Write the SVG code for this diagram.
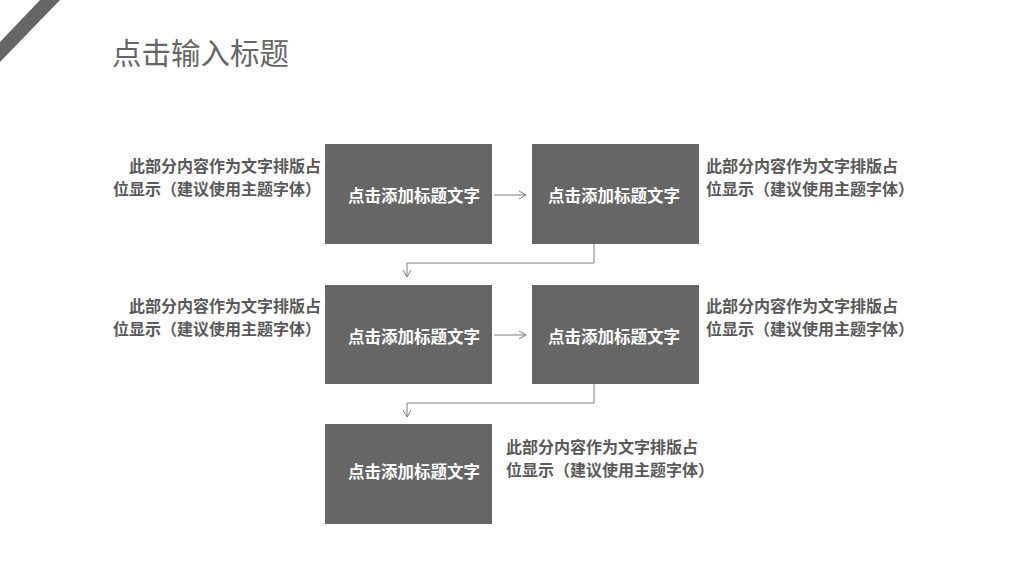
<svg xmlns="http://www.w3.org/2000/svg" width="1024" height="576" viewBox="0 0 1024 576">
<style>
.box{fill:#666666}
.bt{font-family:"Noto Sans CJK SC",sans-serif;font-weight:bold;font-size:16.5px;fill:#ffffff;text-anchor:middle}
.dt{font-family:"Noto Sans CJK SC",sans-serif;font-weight:bold;font-size:16px;fill:#595959}
.r{text-anchor:end}
.ln{fill:none;stroke:#7f7f7f;stroke-width:1}
</style>
<defs><marker id="a" markerWidth="10" markerHeight="10" refX="8" refY="5" orient="auto" markerUnits="userSpaceOnUse"><path d="M1,1 L8,5 L1,9" fill="none" stroke="#7f7f7f" stroke-width="1"/></marker></defs>
<rect width="1024" height="576" fill="#fff"/>
<polygon points="40,0 60,0 0,62 0,42" fill="#666"/>
<text x="112" y="64" font-family="Noto Sans CJK SC,sans-serif" font-size="29.5" fill="#666">点击输入标题</text>
<g id="n1"><rect class="box" x="325" y="144" width="167" height="100"/><text class="bt" x="414" y="202">点击添加标题文字</text></g>
<g id="n2"><rect class="box" x="532" y="144" width="167" height="100"/><text class="bt" x="614" y="202">点击添加标题文字</text></g>
<g id="n3"><rect class="box" x="325" y="285" width="167" height="99"/><text class="bt" x="414" y="343">点击添加标题文字</text></g>
<g id="n4"><rect class="box" x="532" y="285" width="167" height="99"/><text class="bt" x="614" y="343">点击添加标题文字</text></g>
<g id="n5"><rect class="box" x="325" y="424" width="167" height="100"/><text class="bt" x="414" y="478">点击添加标题文字</text></g>
<g id="connectors">
<path class="ln" d="M494,195 H526" marker-end="url(#a)"/>
<path class="ln" d="M594,244 V263 H407 V277" marker-end="url(#a)"/>
<path class="ln" d="M494,335 H526" marker-end="url(#a)"/>
<path class="ln" d="M594,384 V403 H407 V417" marker-end="url(#a)"/>
</g>
<g id="texts">
<text class="dt r" x="321" y="172">此部分内容作为文字排版占</text><text class="dt r" x="321" y="195">位显示（建议使用主题字体）</text>
<text class="dt" x="706" y="172">此部分内容作为文字排版占</text><text class="dt" x="706" y="195">位显示（建议使用主题字体）</text>
<text class="dt r" x="321" y="312">此部分内容作为文字排版占</text><text class="dt r" x="321" y="335">位显示（建议使用主题字体）</text>
<text class="dt" x="706" y="312">此部分内容作为文字排版占</text><text class="dt" x="706" y="335">位显示（建议使用主题字体）</text>
<text class="dt" x="506" y="453">此部分内容作为文字排版占</text><text class="dt" x="506" y="476">位显示（建议使用主题字体）</text>
</g>
</svg>
